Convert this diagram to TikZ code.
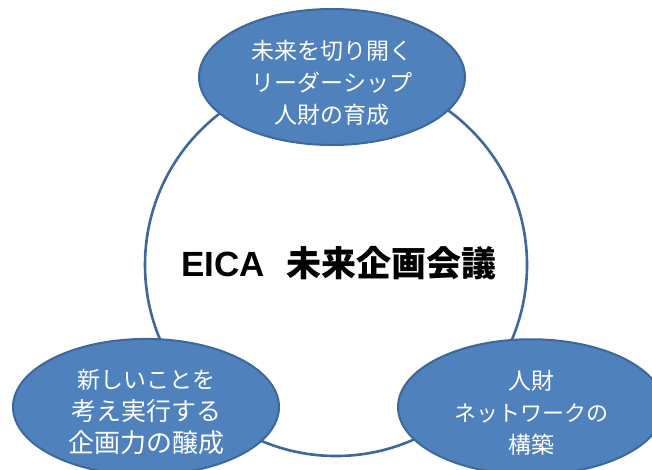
\documentclass[tikz,border=0pt]{standalone}
\usepackage{fontspec}
\setmainfont{Liberation Sans}
\newfontfamily\cjk{Noto Sans CJK JP}
\usetikzlibrary{shapes.geometric}
\definecolor{blob}{HTML}{4F81BD}
\definecolor{edge}{HTML}{3F689A}
\newcommand{\lowerlines}{\rule{0pt}{30pt}}
\tikzset{
  hub/.style={ellipse,draw=edge,line width=2pt,fill=blob,text=white,align=center,inner sep=0pt,font=\cjk\fontsize{23}{32}\selectfont,minimum width=266pt,minimum height=134pt},
  ringstyle/.style={draw=edge,line width=2.6pt,fill=white}
}
\begin{document}
\begin{tikzpicture}[x=1pt,y=-1pt]
\useasboundingbox (0,0) rectangle (652,469);
\fill[white] (0,0) rectangle (652,469);
\node[ringstyle,circle,minimum size=382pt,inner sep=0pt] (ring) at (336,265) {};
\node[font=\fontsize{35}{40}\selectfont\bfseries,inner sep=0pt] (title) at (339,263) {EICA\hspace{22pt}{\cjk\bfseries 未来企画会議}};
\node[hub,minimum height=136pt] (top) at (332,77) {\lowerlines 未来を切り開く\\リーダーシップ\\人財の育成};
\node[hub] (left) at (146,407) {\lowerlines 新しいことを\\{\fontsize{25}{32}\selectfont 考え実行する}\\{\fontsize{26}{32}\selectfont 企画力の醸成}};
\node[hub] (right) at (531,407) {\lowerlines 人財\\{\fontsize{22}{32}\selectfont ネットワークの}\\構築};
\end{tikzpicture}
\end{document}
